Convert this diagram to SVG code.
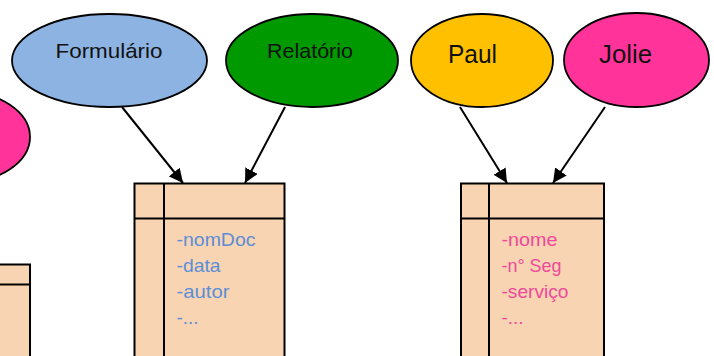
<svg xmlns="http://www.w3.org/2000/svg" width="714" height="356" viewBox="0 0 714 356">
<defs>
<style>
.ell{stroke:#000;stroke-width:1.8}
.lbl{font-family:"Liberation Sans",Arial,sans-serif;fill:#111;text-anchor:start}
.box{fill:#F9D4B3;stroke:#000;stroke-width:2}
.ln{stroke:#000;stroke-width:2;fill:none}
.attr{font-family:"Liberation Sans",Arial,sans-serif;font-size:18.5px}
.blue{fill:#5B8ED6}
.pink{fill:#F0489A}
.conn{stroke:#000;stroke-width:2;fill:none;marker-end:url(#arr)}
</style>
<marker id="arr" markerUnits="userSpaceOnUse" markerWidth="14" markerHeight="14" viewBox="0 0 14 14" refX="14" refY="7" orient="auto">
<path d="M0,0 L14,7 L0,14 z" fill="#000"/>
</marker>
</defs>

<g id="node-left-ellipse">
<ellipse class="ell" cx="-40" cy="137" rx="70" ry="46" fill="#FF3399"/>
</g>
<g id="node-formulario">
<ellipse class="ell" cx="109.5" cy="60.5" rx="97.5" ry="46.5" fill="#8DB3E2"/>
<text class="lbl" x="55.5" y="58" font-size="21" textLength="107" lengthAdjust="spacingAndGlyphs">Formulário</text>
</g>
<g id="node-relatorio">
<ellipse class="ell" cx="312" cy="60.5" rx="86" ry="46.5" fill="#009900"/>
<text class="lbl" x="267" y="58" font-size="21" textLength="86" lengthAdjust="spacingAndGlyphs">Relatório</text>
</g>
<g id="node-paul">
<ellipse class="ell" cx="482" cy="60.5" rx="71" ry="46.5" fill="#FFC000"/>
<text class="lbl" x="448" y="63" font-size="25" textLength="49" lengthAdjust="spacingAndGlyphs">Paul</text>
</g>
<g id="node-jolie">
<ellipse class="ell" cx="636.5" cy="60" rx="72.5" ry="47" fill="#FF3399"/>
<text class="lbl" x="599" y="63" font-size="25" textLength="53" lengthAdjust="spacingAndGlyphs">Jolie</text>
</g>

<g id="node-left-box">
<rect class="box" x="-10" y="264.5" width="40" height="100"/>
<line class="ln" x1="-10" y1="284.5" x2="30" y2="284.5"/>
</g>

<g id="node-documento">
<rect class="box" x="134.5" y="183.5" width="150" height="190"/>
<line class="ln" x1="134.5" y1="218.5" x2="284.5" y2="218.5"/>
<line class="ln" x1="164" y1="183.5" x2="164" y2="373"/>
<text class="attr blue" x="176.5" y="245.5" textLength="79" lengthAdjust="spacingAndGlyphs">-nomDoc</text>
<text class="attr blue" x="176.5" y="271.5" textLength="44" lengthAdjust="spacingAndGlyphs">-data</text>
<text class="attr blue" x="176.5" y="297.5" textLength="53" lengthAdjust="spacingAndGlyphs">-autor</text>
<text class="attr blue" x="176.5" y="323.5" textLength="22" lengthAdjust="spacingAndGlyphs">-...</text>
</g>

<g id="node-pessoa">
<rect class="box" x="461" y="183.5" width="143" height="190"/>
<line class="ln" x1="461" y1="218.5" x2="604" y2="218.5"/>
<line class="ln" x1="489" y1="183.5" x2="489" y2="373"/>
<text class="attr pink" x="501.5" y="245.5" textLength="56" lengthAdjust="spacingAndGlyphs">-nome</text>
<text class="attr pink" x="501.5" y="271.5" textLength="60" lengthAdjust="spacingAndGlyphs">-n° Seg</text>
<text class="attr pink" x="501.5" y="297.5" textLength="67" lengthAdjust="spacingAndGlyphs">-serviço</text>
<text class="attr pink" x="501.5" y="323.5" textLength="22" lengthAdjust="spacingAndGlyphs">-...</text>
</g>

<g id="connectors">
<line class="conn" x1="122" y1="107" x2="183" y2="183"/>
<line class="conn" x1="285" y1="107" x2="245" y2="183"/>
<line class="conn" x1="460" y1="107" x2="507" y2="183"/>
<line class="conn" x1="605" y1="107" x2="553" y2="183"/>
</g>
</svg>
